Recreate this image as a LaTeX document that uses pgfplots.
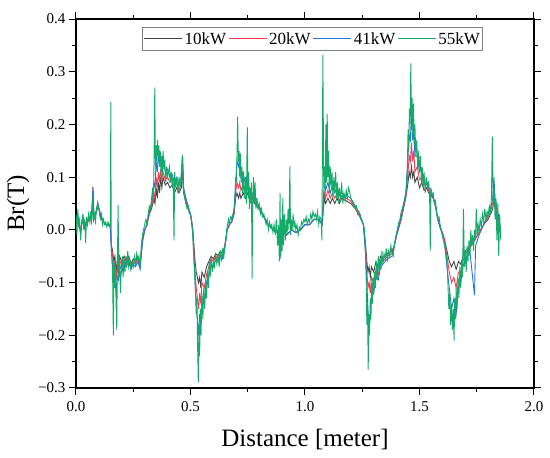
\documentclass[border=0pt]{standalone}
\usepackage{pgfplots}
\pgfplotsset{compat=1.18}
\usepackage{pgfplotstable}
\usepackage{fontspec}
\setmainfont{Liberation Serif}
\definecolor{cK}{RGB}{70,70,70}
\definecolor{cR}{RGB}{250,60,80}
\definecolor{cB}{RGB}{30,120,215}
\definecolor{cG}{RGB}{20,170,105}

\pgfplotstableread{
x y
0.000 0.020
0.010 0.010
0.020 0.000
0.030 0.025
0.040 0.005
0.050 0.015
0.060 0.020
0.070 0.030
0.074 0.075
0.078 0.020
0.090 0.035
0.095 0.045
0.100 0.040
0.110 0.020
0.120 0.015
0.130 0.010
0.140 0.010
0.150 0.005
0.155 -0.030
0.160 -0.040
0.165 -0.060
0.170 -0.050
0.175 -0.080
0.180 -0.060
0.185 -0.070
0.190 -0.050
0.200 -0.060
0.210 -0.050
0.220 -0.060
0.230 -0.050
0.240 -0.065
0.250 -0.055
0.260 -0.060
0.270 -0.050
0.280 -0.065
0.290 -0.020
0.300 0.000
0.310 0.010
0.320 0.030
0.330 0.040
0.340 0.060
0.345 0.050
0.350 0.080
0.355 0.060
0.360 0.090
0.365 0.070
0.370 0.100
0.375 0.080
0.380 0.100
0.390 0.085
0.400 0.090
0.410 0.080
0.420 0.085
0.430 0.070
0.440 0.080
0.450 0.070
0.460 0.080
0.465 0.120
0.470 0.070
0.480 0.050
0.490 0.040
0.500 0.030
0.510 0.000
0.515 -0.030
0.520 -0.060
0.525 -0.080
0.530 -0.090
0.535 -0.100
0.540 -0.090
0.545 -0.110
0.550 -0.080
0.560 -0.090
0.570 -0.070
0.580 -0.060
0.590 -0.050
0.600 -0.055
0.610 -0.045
0.620 -0.050
0.630 -0.040
0.640 -0.045
0.650 -0.030
0.660 0.000
0.670 0.010
0.680 0.015
0.690 0.030
0.697 0.060
0.703 0.070
0.710 0.060
0.715 0.070
0.720 0.060
0.730 0.070
0.740 0.060
0.750 0.070
0.760 0.055
0.770 0.060
0.780 0.050
0.790 0.045
0.800 0.040
0.820 0.025
0.840 0.010
0.860 0.000
0.880 -0.005
0.900 0.000
0.920 -0.010
0.940 0.000
0.960 -0.005
0.980 0.000
1.000 0.010
1.020 0.010
1.040 0.020
1.060 0.020
1.075 0.010
1.080 0.040
1.085 0.060
1.090 0.050
1.100 0.060
1.110 0.050
1.120 0.060
1.130 0.050
1.140 0.060
1.150 0.050
1.160 0.060
1.180 0.055
1.200 0.050
1.220 0.040
1.240 0.025
1.255 0.010
1.265 -0.030
1.270 -0.060
1.275 -0.080
1.280 -0.070
1.285 -0.090
1.290 -0.070
1.300 -0.080
1.310 -0.060
1.320 -0.070
1.330 -0.050
1.340 -0.055
1.360 -0.045
1.380 -0.040
1.390 -0.030
1.400 -0.010
1.420 0.020
1.440 0.060
1.450 0.090
1.455 0.110
1.460 0.100
1.465 0.120
1.470 0.100
1.475 0.110
1.480 0.090
1.490 0.100
1.500 0.080
1.510 0.090
1.520 0.075
1.530 0.080
1.540 0.070
1.550 0.065
1.560 0.060
1.570 0.045
1.580 0.020
1.590 0.005
1.600 -0.005
1.610 -0.020
1.620 -0.040
1.630 -0.060
1.640 -0.070
1.650 -0.060
1.660 -0.075
1.670 -0.060
1.680 -0.065
1.690 -0.050
1.700 -0.040
1.720 -0.030
1.740 -0.020
1.760 -0.005
1.780 0.010
1.800 0.020
1.810 0.030
1.820 0.040
1.825 0.060
1.830 0.040
1.840 0.030
1.850 0.010
1.855 -0.010
}\tblK

\pgfplotstableread{
x y
0.000 0.020
0.010 0.015
0.020 0.000
0.030 0.025
0.040 0.010
0.050 0.015
0.060 0.020
0.070 0.035
0.074 0.080
0.078 0.020
0.090 0.035
0.095 0.050
0.100 0.040
0.110 0.025
0.120 0.015
0.130 0.010
0.140 0.010
0.150 0.005
0.155 -0.035
0.160 -0.050
0.165 -0.075
0.170 -0.060
0.175 -0.095
0.180 -0.070
0.185 -0.080
0.190 -0.055
0.200 -0.070
0.210 -0.055
0.220 -0.065
0.230 -0.055
0.240 -0.070
0.250 -0.060
0.260 -0.065
0.270 -0.055
0.280 -0.070
0.290 -0.020
0.300 0.000
0.310 0.010
0.320 0.030
0.330 0.045
0.340 0.070
0.345 0.060
0.350 0.100
0.355 0.080
0.360 0.110
0.365 0.090
0.370 0.115
0.375 0.095
0.380 0.110
0.390 0.095
0.400 0.100
0.410 0.090
0.420 0.095
0.430 0.080
0.440 0.090
0.450 0.075
0.460 0.090
0.465 0.140
0.470 0.075
0.480 0.055
0.490 0.040
0.500 0.030
0.510 0.000
0.515 -0.040
0.520 -0.080
0.525 -0.110
0.530 -0.130
0.535 -0.150
0.540 -0.120
0.545 -0.140
0.550 -0.100
0.560 -0.110
0.570 -0.085
0.580 -0.070
0.590 -0.055
0.600 -0.060
0.610 -0.050
0.620 -0.055
0.630 -0.045
0.640 -0.050
0.650 -0.030
0.660 0.000
0.670 0.010
0.680 0.015
0.690 0.030
0.697 0.070
0.703 0.090
0.710 0.080
0.715 0.090
0.720 0.075
0.730 0.085
0.740 0.070
0.750 0.080
0.760 0.060
0.770 0.065
0.780 0.055
0.790 0.045
0.800 0.040
0.820 0.025
0.840 0.010
0.860 0.000
0.880 -0.005
0.900 0.000
0.920 -0.010
0.940 0.000
0.960 -0.005
0.980 0.000
1.000 0.010
1.020 0.010
1.040 0.020
1.060 0.020
1.075 0.010
1.080 0.050
1.085 0.070
1.090 0.060
1.100 0.075
1.110 0.060
1.120 0.070
1.130 0.060
1.140 0.070
1.150 0.055
1.160 0.065
1.180 0.060
1.200 0.055
1.220 0.040
1.240 0.025
1.255 0.010
1.265 -0.040
1.270 -0.080
1.275 -0.110
1.280 -0.100
1.285 -0.120
1.290 -0.090
1.300 -0.100
1.310 -0.075
1.320 -0.085
1.330 -0.060
1.340 -0.060
1.360 -0.050
1.380 -0.045
1.390 -0.030
1.400 -0.010
1.420 0.020
1.440 0.065
1.450 0.110
1.455 0.140
1.460 0.130
1.465 0.165
1.470 0.130
1.475 0.150
1.480 0.110
1.490 0.120
1.500 0.095
1.510 0.100
1.520 0.085
1.530 0.090
1.540 0.075
1.550 0.070
1.560 0.060
1.570 0.045
1.580 0.020
1.590 0.005
1.600 -0.005
1.610 -0.020
1.620 -0.050
1.630 -0.080
1.640 -0.100
1.650 -0.090
1.660 -0.110
1.670 -0.080
1.680 -0.080
1.690 -0.060
1.700 -0.045
1.720 -0.035
1.740 -0.020
1.760 -0.005
1.780 0.010
1.800 0.025
1.810 0.035
1.820 0.050
1.825 0.090
1.830 0.050
1.840 0.035
1.850 0.010
1.855 -0.010
}\tblR

\pgfplotstableread{
x y
0.000 0.025
0.010 0.015
0.020 -0.005
0.030 0.025
0.040 0.010
0.050 0.020
0.060 0.020
0.070 0.040
0.074 0.082
0.078 0.020
0.090 0.040
0.095 0.052
0.100 0.040
0.110 0.025
0.120 0.015
0.130 0.010
0.140 0.010
0.150 0.005
0.155 -0.045
0.160 -0.070
0.165 -0.100
0.170 -0.080
0.175 -0.120
0.180 -0.090
0.185 -0.095
0.190 -0.065
0.200 -0.080
0.210 -0.060
0.220 -0.070
0.230 -0.060
0.240 -0.075
0.250 -0.065
0.260 -0.070
0.270 -0.060
0.280 -0.075
0.290 -0.025
0.300 0.000
0.310 0.010
0.320 0.035
0.330 0.050
0.340 0.090
0.345 0.080
0.350 0.130
0.355 0.110
0.360 0.145
0.365 0.120
0.370 0.140
0.375 0.115
0.380 0.130
0.390 0.110
0.400 0.115
0.410 0.100
0.420 0.105
0.430 0.090
0.440 0.100
0.450 0.085
0.460 0.100
0.465 0.142
0.470 0.080
0.480 0.060
0.490 0.045
0.500 0.030
0.510 -0.005
0.515 -0.050
0.520 -0.100
0.525 -0.140
0.530 -0.170
0.535 -0.200
0.540 -0.160
0.545 -0.180
0.550 -0.130
0.560 -0.140
0.570 -0.100
0.580 -0.085
0.590 -0.065
0.600 -0.070
0.610 -0.055
0.620 -0.060
0.630 -0.050
0.640 -0.055
0.650 -0.035
0.660 0.000
0.670 0.010
0.680 0.015
0.690 0.035
0.697 0.090
0.703 0.130
0.710 0.120
0.715 0.140
0.720 0.100
0.730 0.110
0.740 0.085
0.750 0.095
0.760 0.070
0.770 0.070
0.780 0.060
0.790 0.050
0.800 0.045
0.820 0.025
0.840 0.010
0.860 0.000
0.880 -0.005
0.900 0.000
0.920 -0.010
0.940 0.000
0.960 -0.005
0.980 0.000
1.000 0.010
1.020 0.010
1.040 0.020
1.060 0.020
1.075 0.010
1.080 0.060
1.085 0.090
1.090 0.075
1.100 0.090
1.110 0.070
1.120 0.085
1.130 0.070
1.140 0.080
1.150 0.065
1.160 0.070
1.180 0.065
1.200 0.060
1.220 0.045
1.240 0.030
1.255 0.010
1.265 -0.050
1.270 -0.100
1.275 -0.150
1.280 -0.190
1.285 -0.160
1.290 -0.130
1.300 -0.120
1.310 -0.090
1.320 -0.095
1.330 -0.070
1.340 -0.065
1.360 -0.055
1.380 -0.050
1.390 -0.030
1.400 -0.010
1.420 0.025
1.440 0.070
1.450 0.140
1.455 0.180
1.460 0.170
1.465 0.220
1.470 0.170
1.475 0.190
1.480 0.140
1.490 0.140
1.500 0.110
1.510 0.115
1.520 0.095
1.530 0.095
1.540 0.080
1.550 0.075
1.560 0.060
1.570 0.045
1.580 0.020
1.590 0.005
1.600 -0.010
1.610 -0.030
1.620 -0.070
1.630 -0.110
1.640 -0.150
1.650 -0.130
1.660 -0.160
1.670 -0.110
1.680 -0.100
1.690 -0.070
1.700 -0.055
1.720 -0.040
1.740 -0.124
1.745 -0.030
1.760 -0.010
1.780 0.010
1.800 0.030
1.810 0.040
1.820 0.060
1.825 0.100
1.830 0.060
1.840 0.040
1.850 0.010
1.855 -0.010
}\tblB

\pgfplotstableread{
x y
0.000 0.030
0.004 -0.010
0.008 0.040
0.012 0.010
0.016 0.020
0.020 -0.020
0.025 0.010
0.030 0.030
0.034 0.000
0.038 0.020
0.042 -0.025
0.046 0.025
0.050 0.010
0.055 0.030
0.060 0.015
0.064 0.035
0.068 0.010
0.072 0.060
0.076 0.020
0.080 0.030
0.085 0.015
0.090 0.040
0.095 0.050
0.100 0.040
0.104 0.025
0.108 0.020
0.112 0.030
0.116 0.010
0.120 0.020
0.125 0.010
0.130 0.015
0.135 0.005
0.140 0.015
0.145 0.010
0.150 0.005
0.152 0.243
0.154 -0.040
0.157 -0.050
0.160 -0.090
0.163 -0.200
0.166 -0.060
0.169 -0.110
0.172 -0.070
0.175 -0.140
0.178 -0.190
0.181 -0.050
0.184 0.047
0.187 -0.090
0.190 -0.060
0.194 -0.120
0.198 -0.070
0.202 -0.050
0.206 -0.090
0.210 -0.060
0.214 -0.080
0.218 -0.050
0.222 -0.065
0.226 -0.040
0.230 -0.070
0.235 -0.055
0.240 -0.075
0.245 -0.060
0.250 -0.070
0.255 -0.050
0.260 -0.065
0.265 -0.045
0.270 -0.060
0.275 -0.050
0.280 -0.070
0.285 -0.030
0.290 -0.010
0.295 0.000
0.300 0.010
0.305 0.020
0.310 0.010
0.315 0.030
0.320 0.045
0.325 0.040
0.330 0.060
0.335 0.080
0.338 0.050
0.341 0.140
0.344 0.270
0.347 0.120
0.350 0.160
0.353 0.130
0.356 0.170
0.359 0.140
0.362 0.160
0.365 0.120
0.368 0.150
0.371 0.110
0.374 0.140
0.377 0.100
0.380 0.150
0.384 0.120
0.388 0.130
0.392 0.090
0.396 0.120
0.400 0.100
0.404 0.110
0.408 0.120
0.412 0.090
0.416 0.110
0.420 0.080
0.424 0.100
0.428 -0.020
0.431 0.110
0.435 0.080
0.440 0.100
0.445 0.070
0.450 0.100
0.455 0.080
0.460 0.110
0.465 0.140
0.468 0.080
0.472 0.070
0.476 0.060
0.480 0.050
0.485 0.040
0.490 0.045
0.495 0.030
0.500 0.030
0.505 0.020
0.510 -0.010
0.514 -0.050
0.518 -0.080
0.522 -0.120
0.525 -0.160
0.528 -0.130
0.531 -0.220
0.534 -0.290
0.537 -0.180
0.540 -0.240
0.543 -0.150
0.546 -0.200
0.550 -0.120
0.554 -0.170
0.558 -0.110
0.562 -0.150
0.566 -0.100
0.570 -0.130
0.574 -0.080
0.578 -0.110
0.582 -0.060
0.586 -0.090
0.590 -0.050
0.595 -0.080
0.600 -0.060
0.605 -0.070
0.610 -0.050
0.615 -0.065
0.620 -0.045
0.625 -0.070
0.630 -0.040
0.635 -0.060
0.640 -0.035
0.645 -0.055
0.650 -0.030
0.655 -0.020
0.658 0.000
0.662 0.010
0.666 0.020
0.670 0.010
0.675 0.025
0.680 0.020
0.685 0.030
0.690 0.040
0.694 0.050
0.697 0.100
0.700 0.090
0.703 0.140
0.706 0.215
0.709 0.130
0.712 0.150
0.715 0.100
0.718 0.145
0.721 0.090
0.724 0.120
0.727 0.070
0.730 0.110
0.733 0.080
0.736 0.060
0.740 0.100
0.744 0.050
0.748 0.195
0.751 0.060
0.754 0.110
0.757 0.040
0.760 0.080
0.763 0.050
0.766 0.090
0.769 -0.092
0.772 0.060
0.775 0.100
0.778 0.050
0.782 0.090
0.786 0.040
0.790 0.060
0.795 0.040
0.800 0.050
0.805 0.030
0.810 0.040
0.815 0.025
0.820 0.030
0.825 0.020
0.830 0.010
0.835 0.020
0.840 0.000
0.845 0.015
0.850 0.005
0.855 0.010
0.860 -0.005
0.865 0.010
0.870 -0.010
0.875 0.020
0.880 -0.030
0.884 0.010
0.888 -0.060
0.891 0.070
0.894 -0.055
0.897 0.020
0.900 -0.040
0.903 0.060
0.906 -0.030
0.910 0.030
0.914 -0.020
0.918 0.020
0.922 -0.010
0.926 0.040
0.930 0.000
0.934 0.120
0.937 -0.010
0.940 0.020
0.944 0.000
0.948 0.030
0.952 0.005
0.956 0.015
0.960 0.000
0.965 0.010
0.970 -0.010
0.975 0.005
0.980 0.000
0.985 0.015
0.990 0.010
0.995 0.020
1.000 0.015
1.005 0.025
1.010 0.010
1.015 0.020
1.020 0.015
1.025 0.030
1.030 0.020
1.035 0.035
1.040 0.025
1.045 0.030
1.050 0.020
1.055 0.035
1.060 0.010
1.065 0.025
1.070 0.020
1.074 -0.020
1.078 0.332
1.082 0.080
1.085 0.120
1.088 0.060
1.091 0.200
1.094 0.090
1.097 0.220
1.100 0.100
1.103 0.150
1.106 0.070
1.110 0.120
1.114 0.080
1.118 0.110
1.122 0.060
1.126 0.100
1.130 0.070
1.134 0.110
1.138 0.060
1.142 0.090
1.146 0.050
1.150 0.080
1.155 0.060
1.160 0.090
1.165 0.050
1.170 0.070
1.175 0.055
1.180 0.075
1.185 0.060
1.190 0.080
1.196 0.070
1.200 0.060
1.205 0.055
1.210 0.050
1.215 0.045
1.220 0.040
1.225 0.045
1.230 0.030
1.235 0.035
1.240 0.025
1.245 0.020
1.250 0.015
1.255 0.010
1.260 0.000
1.264 -0.040
1.267 -0.090
1.270 -0.180
1.273 -0.140
1.276 -0.265
1.279 -0.160
1.282 -0.200
1.285 -0.130
1.288 -0.170
1.291 -0.100
1.294 -0.140
1.297 -0.090
1.300 -0.120
1.304 -0.080
1.308 -0.110
1.312 -0.060
1.316 -0.095
1.320 -0.050
1.324 -0.080
1.328 -0.055
1.332 -0.075
1.336 -0.040
1.340 -0.065
1.345 -0.045
1.350 -0.055
1.355 -0.035
1.360 -0.060
1.365 -0.040
1.370 -0.050
1.375 -0.030
1.380 -0.045
1.385 -0.050
1.390 -0.030
1.395 -0.015
1.400 -0.005
1.405 0.005
1.410 0.015
1.415 0.020
1.420 0.035
1.425 0.040
1.430 0.050
1.435 0.055
1.440 0.070
1.444 0.080
1.447 0.120
1.450 0.190
1.453 0.150
1.456 0.230
1.459 0.200
1.462 0.316
1.465 0.210
1.468 0.250
1.471 0.180
1.474 0.240
1.477 0.160
1.480 0.200
1.484 0.140
1.488 0.170
1.492 0.120
1.496 0.150
1.500 0.110
1.504 0.140
1.508 0.090
1.512 0.120
1.516 0.080
1.520 0.110
1.525 0.070
1.530 0.100
1.535 0.080
1.540 0.090
1.544 0.070
1.547 -0.040
1.550 0.080
1.555 0.065
1.560 0.070
1.565 0.050
1.570 0.055
1.575 0.030
1.580 0.020
1.585 0.025
1.590 0.010
1.595 0.000
1.600 -0.010
1.605 -0.020
1.610 -0.030
1.615 -0.040
1.620 -0.060
1.624 -0.100
1.628 -0.150
1.632 -0.120
1.636 -0.180
1.640 -0.140
1.644 -0.190
1.648 -0.150
1.651 -0.210
1.654 -0.130
1.657 -0.170
1.660 -0.110
1.664 -0.150
1.668 -0.090
1.672 -0.130
1.676 -0.070
1.680 -0.110
1.684 -0.060
1.688 -0.090
1.692 0.040
1.696 -0.070
1.700 -0.040
1.704 -0.080
1.708 -0.030
1.712 -0.060
1.716 -0.020
1.720 -0.050
1.724 0.000
1.728 -0.030
1.732 -0.010
1.736 -0.040
1.740 0.000
1.744 -0.020
1.748 0.040
1.752 -0.010
1.756 0.010
1.760 -0.005
1.765 0.020
1.770 0.005
1.775 0.030
1.780 0.015
1.785 0.040
1.790 0.020
1.795 0.035
1.800 0.030
1.805 0.045
1.810 0.035
1.814 0.060
1.818 0.177
1.822 0.050
1.826 0.080
1.830 0.020
1.834 0.060
1.838 -0.020
1.842 0.050
1.846 -0.050
1.850 0.030
1.855 -0.020
}\tblG

\begin{document}
\begin{tikzpicture}
\begin{axis}[
  name=ax,
  scale only axis,
  width=458pt, height=369pt,
  xmin=0, xmax=2, ymin=-0.3, ymax=0.4,
  xtick={0,0.5,1,1.5,2},
  xticklabels={\textrm{0.0},\textrm{0.5},\textrm{1.0},\textrm{1.5},\textrm{2.0}},
  ytick={-0.3,-0.2,-0.1,0,0.1,0.2,0.3,0.4},
  yticklabels={\textrm{−0.3},\textrm{−0.2},\textrm{−0.1},\textrm{0.0},\textrm{0.1},\textrm{0.2},\textrm{0.3},\textrm{0.4}},
  minor tick num=1,
  tick align=outside,
  major tick length=7pt,
  minor tick length=4pt,
  every tick/.style={black, line width=1pt},
  axis line style={line width=1.2pt},
  ticklabel style={font=\rmfamily\fontsize{15}{17}\selectfont},
  xticklabel style={yshift=-3pt},
  xlabel={Distance [meter]},
  ylabel={Br(T)},
  label style={font=\rmfamily\fontsize{25}{28}\selectfont},
  xlabel style={yshift=-11pt},
  ylabel style={yshift=2pt},
  legend columns=4,
  legend style={at={(0.517,0.946)}, anchor=center, draw=gray, line width=0.8pt,
    font=\rmfamily\fontsize{17}{19}\selectfont, inner xsep=1pt, inner ysep=3pt,
    /tikz/every even column/.style={column sep=0pt}},
  legend image code/.code={\draw[#1, line width=1pt] (0pt,0pt) -- (38pt,0pt);},
  every axis plot/.append style={line width=0.9pt},
]
\addplot[cK, no marks] table[x=x,y=y] {\tblK};
\addlegendentry{10kW}
\addplot[cR, no marks] table[x=x,y=y] {\tblR};
\addlegendentry{20kW}
\addplot[cB, no marks] table[x=x,y=y] {\tblB};
\addlegendentry{41kW}
\addplot[cG, no marks] table[x=x,y=y] {\tblG};
\addlegendentry{55kW}
\end{axis}
\pgfresetboundingbox
\path (ax.south west) ++(-76pt,-70pt) rectangle ++(550pt,458pt);
\end{tikzpicture}
\end{document}
